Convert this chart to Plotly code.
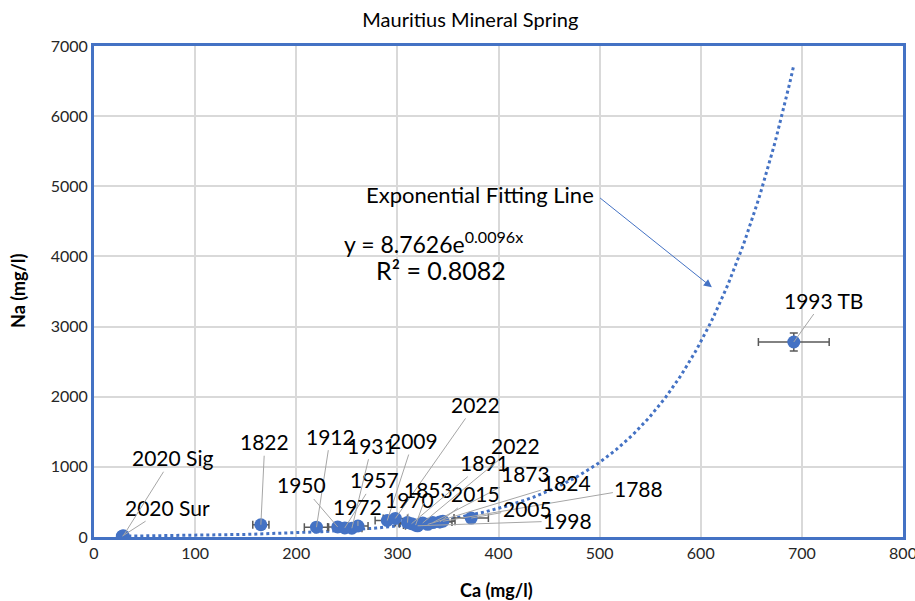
import numpy as np
import plotly.graph_objects as go

# ---- data ----
labels = ["2020 Sur", "2020 Sig", "1822", "1912", "1950", "1957", "1931", "1972",
          "2009", "2022", "1970", "1853", "1891", "2022", "1873", "2015",
          "1824", "1998", "1788", "2005", "1993 TB"]
ca = [28, 29, 165, 220, 241, 248, 255, 261,
      290, 298, 310, 318, 314, 325, 335, 342,
      330, 320, 345, 373, 692]
na = [12, 18, 175, 140, 143, 130, 125, 157,
      235, 265, 205, 170, 190, 200, 205, 215,
      180, 160, 225, 270, 2780]
ca_err = [0, 0, 8, 12, 10, 10, 10, 10,
          12, 12, 12, 12, 12, 12, 12, 12,
          12, 12, 12, 17, 35]
na_err = [5, 5, 15, 15, 15, 15, 15, 15,
          15, 15, 15, 15, 15, 15, 15, 15,
          15, 15, 15, 15, 130]

# label offsets (pixels, text centre relative to point)
label_dx = [45, 49, 4, 14, -36, 30, 20, 0,
            26, 80, 2, 13, 73, 93, 93, 36,
            139, 150, 196, 56, 30]
label_dy = [-29, -78, -83, -91, -42, -48, -83, -19,
            -80, -114, -23, -36, -61, -77, -49, -28,
            -42, -5, -33, -10, -42]

# exponential fit shown on the chart: y = a * exp(b x)
fit_a = 8.7626
fit_b = 0.0096
fit_x = np.linspace(min(ca), max(ca), 300)
fit_y = fit_a * np.exp(fit_b * fit_x)

BLUE = "#4472C4"
FONT = "Lato"

fig = go.Figure()
fig.add_trace(go.Scatter(
    x=fit_x, y=fit_y, mode="lines",
    line=dict(color=BLUE, width=3, dash="dot"),
    hoverinfo="skip", showlegend=False))
fig.add_trace(go.Scatter(
    x=ca, y=na, mode="markers",
    marker=dict(color=BLUE, size=13),
    error_x=dict(type="data", array=ca_err, color="#595959", thickness=1.5, width=4),
    error_y=dict(type="data", array=na_err, color="#595959", thickness=1.5, width=4),
    showlegend=False))

annotations = []
for lab, x, y, dx, dy in zip(labels, ca, na, label_dx, label_dy):
    annotations.append(dict(
        x=x, y=y, xref="x", yref="y", text=lab,
        showarrow=True, arrowhead=0, arrowwidth=1, arrowcolor="#a6a6a6",
        ax=dx, ay=dy, standoff=0, startstandoff=0,
        font=dict(family=FONT, size=21, color="black")))

# trend annotation texts
annotations.append(dict(x=382, y=4880, xref="x", yref="y", text="Exponential Fitting Line",
                        showarrow=False, font=dict(family=FONT, size=22, color="black")))
annotations.append(dict(x=336, y=4200, xref="x", yref="y",
                        text="y = 8.7626e<sup>0.0096x</sup>",
                        showarrow=False, font=dict(family=FONT, size=23, color="black")))
annotations.append(dict(x=343, y=3800, xref="x", yref="y", text="R² = 0.8082",
                        showarrow=False, font=dict(family=FONT, size=25, color="black")))
annotations.append(dict(x=611, y=3560, xref="x", yref="y", text="",
                        showarrow=True, arrowhead=2, arrowsize=1.6, arrowwidth=1,
                        arrowcolor=BLUE, axref="x", ayref="y", ax=499, ay=4850,
                        standoff=0))

# axis titles
annotations.append(dict(x=0.498, y=0, xref="paper", yref="paper", yshift=-53,
                        xanchor="center", yanchor="middle", showarrow=False,
                        text="<b>Ca (mg/l)</b>",
                        font=dict(family=FONT, size=18, color="black")))
annotations.append(dict(x=0, y=0.501, xref="paper", yref="paper", xshift=-76,
                        xanchor="center", yanchor="middle", showarrow=False,
                        textangle=-90, text="<b>Na (mg/l)</b>",
                        font=dict(family=FONT, size=18, color="black")))

fig.update_layout(
    width=915, height=601,
    margin=dict(l=94, r=12, t=46, b=64),
    paper_bgcolor="white", plot_bgcolor="white",
    title=dict(text="Mauritius Mineral Spring", x=0.514, xanchor="center",
               y=0.967, yanchor="middle",
               font=dict(family=FONT, size=20, color="black")),
    font=dict(family=FONT, color="black"),
    annotations=annotations,
    showlegend=False,
)
fig.update_xaxes(range=[0, 800], dtick=100, tick0=0, automargin=False,
                 showgrid=True, gridcolor="#d9d9d9", gridwidth=1.5,
                 showline=True, linecolor=BLUE, linewidth=3, mirror=True,
                 zeroline=False, ticks="", ticklabeloverflow="allow",
                 tickfont=dict(family=FONT, size=16, color="#262626"))
fig.update_yaxes(range=[0, 7000], dtick=1000, tick0=0, automargin=False,
                 showgrid=True, gridcolor="#d9d9d9", gridwidth=1.5,
                 showline=True, linecolor=BLUE, linewidth=3, mirror=True,
                 zeroline=False, ticks="", ticklabeloverflow="allow",
                 tickfont=dict(family=FONT, size=16, color="#262626"))

fig.write_html(
    "out.html",
    config={"displayModeBar": False},
    post_script="document.body.style.margin='0';document.body.style.overflow='hidden';",
)
